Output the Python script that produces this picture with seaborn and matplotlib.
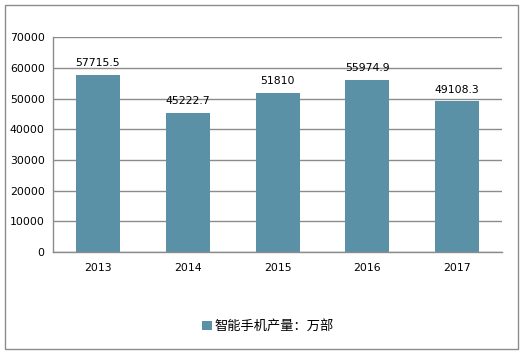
import matplotlib
matplotlib.use("Agg")
import pandas as pd
import seaborn as sns
from matplotlib import pyplot as plt
from matplotlib.patches import Rectangle, Patch

years = ["2013", "2014", "2015", "2016", "2017"]
output = [57715.5, 45222.7, 51810, 55974.9, 49108.3]
value_labels = ["57715.5", "45222.7", "51810", "55974.9", "49108.3"]
yticks = [0, 10000, 20000, 30000, 40000, 50000, 60000, 70000]
legend_label = "智能手机产量：万部"

sns.set_style("white")
plt.rcParams['font.family'] = ['DejaVu Sans', 'Noto Sans CJK SC']
plt.rcParams['text.color'] = 'black'
plt.rcParams['xtick.color'] = 'black'
plt.rcParams['ytick.color'] = 'black'

data = pd.DataFrame({"year": years, "value": output})
color = "#5B91A7"

fig = plt.figure(figsize=(5.23, 3.54), dpi=100)
ax = fig.add_axes([0.1013, 0.288, 0.859, 0.607])
ax.set_axisbelow(True)
sns.barplot(data=data, x="year", y="value", color=color, width=0.49,
            saturation=1, linewidth=0, ax=ax)

ax.set_ylim(0, 70000)
ax.set_yticks(yticks)
ax.set_yticklabels([str(t) for t in yticks], fontsize=7.8)
ax.tick_params(axis='x', labelsize=7.8, length=0, pad=8)
ax.tick_params(axis='y', length=0, pad=6)
ax.grid(axis='y', color='#8c8c8c', linewidth=1)
for s in ['top', 'right']:
    ax.spines[s].set_visible(False)
for s in ['left', 'bottom']:
    ax.spines[s].set_color('#8c8c8c')
    ax.spines[s].set_linewidth(1)
ax.set_xlabel("")
ax.set_ylabel("")

for i, (v, lab) in enumerate(zip(output, value_labels)):
    ax.text(i, v + 2200, lab, ha='center', va='bottom', fontsize=7.8)

handle = Patch(facecolor=color, edgecolor='none')
fig.legend([handle], [legend_label], loc='center', bbox_to_anchor=(0.512, 0.077),
           frameon=False, handlelength=0.75, handleheight=0.75,
           handletextpad=0.2, prop={'family': ['Noto Sans CJK SC'], 'size': 9.5})

fig.patches.append(Rectangle((5 / 523, 5 / 354), 513 / 523, 344 / 354,
                             transform=fig.transFigure, fill=False,
                             edgecolor='#8c8c8c', linewidth=1))

plt.savefig("out.png", dpi=100)
